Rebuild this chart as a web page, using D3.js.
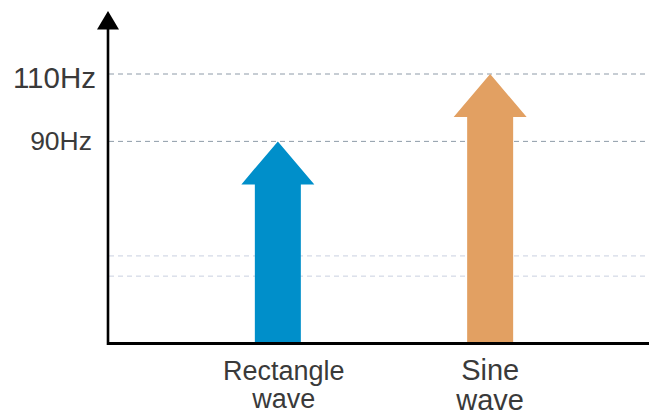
<!DOCTYPE html>
<html>
<head>
<meta charset="utf-8">
<script src="https://cdn.jsdelivr.net/npm/d3@7"></script>
<style>
  html, body { margin: 0; padding: 0; background: #fff; }
  svg { display: block; }
  text { font-family: "Liberation Sans", Arial, Helvetica, sans-serif; fill: #3a3a3a; }
</style>
</head>
<body>
<svg id="chart" width="649" height="414"></svg>
<script>
// ---- data ----
const categories = ["Rectangle wave", "Sine wave"];
const frequencies = [90, 110];
const colors = ["#008fca", "#e2a062"];
const tickValues = [110, 90];
const tickLabels = ["110Hz", "90Hz"];
const minorGridValues = [56, 50];

// ---- layout ----
const W = 649, H = 414;
const axisX = 108, baseY = 343.5;
const svg = d3.select("#chart");

const y = d3.scaleLinear().domain([30, 110]).range([baseY, 74]);
const x = d3.scalePoint().domain(categories).range([axisX, 660]).padding(0.8);

// minor gridlines
svg.selectAll("line.minor").data(minorGridValues).enter().append("line")
  .attr("x1", axisX + 1).attr("x2", W)
  .attr("y1", d => y(d)).attr("y2", d => y(d))
  .attr("stroke", "#c9d0e0").attr("stroke-width", 1)
  .attr("stroke-dasharray", "5,4");

// major gridlines
svg.selectAll("line.major").data(tickValues).enter().append("line")
  .attr("x1", axisX + 1).attr("x2", W)
  .attr("y1", d => y(d)).attr("y2", d => y(d))
  .attr("stroke", "#8e9ba8").attr("stroke-width", 1)
  .attr("stroke-dasharray", "5,4");

// tick labels
const tickStyle = [{size: 29.5, x: 96, dy: 14}, {size: 26.5, x: 92, dy: 8.8}];
svg.selectAll("text.tick").data(tickValues).enter().append("text")
  .attr("x", (d, i) => tickStyle[i].x)
  .attr("y", (d, i) => y(d) + tickStyle[i].dy)
  .attr("text-anchor", "end")
  .attr("font-size", (d, i) => tickStyle[i].size)
  .text((d, i) => tickLabels[i]);

// arrows
const shaftW = 46, headW = 73, headH = 43;
function arrowPath(cx, top, bottom) {
  const p = d3.path();
  p.moveTo(cx, top);
  p.lineTo(cx + headW / 2, top + headH);
  p.lineTo(cx + shaftW / 2, top + headH);
  p.lineTo(cx + shaftW / 2, bottom);
  p.lineTo(cx - shaftW / 2, bottom);
  p.lineTo(cx - shaftW / 2, top + headH);
  p.lineTo(cx - headW / 2, top + headH);
  p.closePath();
  return p.toString();
}
svg.selectAll("path.arrow").data(categories).enter().append("path")
  .attr("d", (d, i) => arrowPath(x(d), y(frequencies[i]), baseY))
  .attr("fill", (d, i) => colors[i]);

// axes
svg.append("line")
  .attr("x1", axisX).attr("x2", W)
  .attr("y1", baseY).attr("y2", baseY)
  .attr("stroke", "#000").attr("stroke-width", 3);
svg.append("line")
  .attr("x1", axisX).attr("x2", axisX)
  .attr("y1", baseY + 1.5).attr("y2", 28)
  .attr("stroke", "#000").attr("stroke-width", 2.6);
svg.append("path")
  .attr("d", d3.line()([[axisX - 11, 29.5], [axisX, 11], [axisX + 11, 29.5]]) + "Z")
  .attr("fill", "#000");

// category labels
const labelStyle = [{size: 27, dx: 6, lh: 28}, {size: 29, dx: 0, lh: 30}];
categories.forEach((c, i) => {
  const words = c.split(" ");
  const t = svg.append("text")
    .attr("text-anchor", "middle")
    .attr("font-size", labelStyle[i].size);
  words.forEach((w, j) => {
    t.append("tspan")
      .attr("x", x(c) + labelStyle[i].dx)
      .attr("y", 379.5 + j * labelStyle[i].lh)
      .text(w);
  });
});
</script>
</body>
</html>
